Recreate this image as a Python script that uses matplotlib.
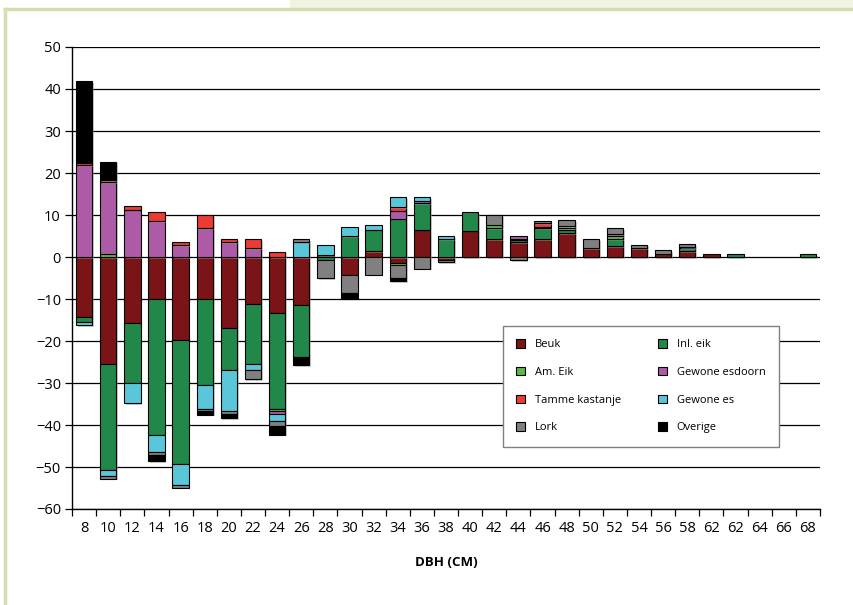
#!/usr/bin/env python3
"""Stacked bar chart of change in stem numbers per DBH class and species."""

import numpy as np
import matplotlib
matplotlib.use('Agg')
import matplotlib.pyplot as plt
import matplotlib.patheffects as pe
from matplotlib.patches import Rectangle, Patch
from matplotlib.lines import Line2D

# DBH classes (the original axis labels "62" twice)
dbh_labels = ['8', '10', '12', '14', '16', '18', '20', '22', '24', '26', '28',
              '30', '32', '34', '36', '38', '40', '42', '44', '46', '48', '50',
              '52', '54', '56', '58', '62', '62', '64', '66', '68']

beuk = [-14.2, -25.5, -15.6, -9.9, -19.8, -9.9, -17.0, -11.3, -13.4, -11.5, 0.4,
        -4.2, 1.4, -1.35, 6.5, -0.7, 6.3, 4.2, 3.5, 4.2, 5.7, 2.1,
        2.6, 2.1, 0.8, 1.4, 0.6, 0, 0, 0, 0]
inl_eik = [-1.2, -25.2, -14.3, -32.4, -29.4, -20.5, -9.9, -14.2, -22.7, -12.4, -0.7,
           4.9, 5.1, 9.1, 6.3, 4.3, 4.4, 2.7, 0.6, 2.7, 0.8, 0,
           1.6, 0, 0, 0.7, 0, 0.6, 0, 0, 0.6]
am_eik = [0, 0.8, 0, 0, 0, 0, 0, 0, -0.5, 0, 0,
          0, 0, -0.65, 0, 0, 0, 0.8, 0.3, 0.3, 0.3, 0,
          0.7, 0, 0, 0.3, 0, 0, 0, 0, 0]
esdoorn = [21.9, 17.0, 11.3, 8.5, 2.75, 6.9, 3.55, 2.1, -0.7, 0, 0,
           0, 0, 1.9, 0.6, 0, 0, 0, 0.7, 0, 0, 0,
           0, 0, 0, 0, 0, 0, 0, 0, 0]
kastanje = [0.6, 0.5, 0.9, 2.2, 0.8, 3.1, 0.7, 2.1, 1.3, 0, 0,
            0, 0, 0.8, 0, 0, 0, 0, 0, 0.8, 0, 0,
            0.6, 0, 0, 0, 0, 0, 0, 0, 0]
gewone_es = [-0.9, -1.4, -4.9, -4.1, -5.0, -5.7, -9.8, -1.4, -1.7, 3.55, 2.5,
             2.2, 1.2, 2.4, 0.8, 0.7, 0, 0, 0, 0, 0.5, 0,
             0, 0, 0, 0, 0, 0, 0, 0, 0]
lork = [0, -0.7, 0, -0.7, -0.7, -0.6, -0.7, -2.2, -1.3, 0.75, -4.3,
        -4.3, -4.2, -2.9, -2.8, -0.6, 0, 2.3, -0.7, 0.6, 1.4, 2.2,
        1.4, 0.8, 0.8, 0.6, 0, 0, 0, 0, 0]
overige = [19.3, 4.4, 0, -1.5, 0, -0.8, -0.9, 0, -2.0, -1.8, 0,
           -1.4, 0, -0.8, 0, 0, 0, 0, 0, 0, 0, 0,
           0, 0, 0, 0, 0, 0, 0, 0, 0]

species = ['Beuk', 'Inl. eik', 'Am. Eik', 'Gewone esdoorn',
           'Tamme kastanje', 'Gewone es', 'Lork', 'Overige']
series = [beuk, inl_eik, am_eik, esdoorn, kastanje, gewone_es, lork, overige]
colors = ['#7b1416', '#21884a', '#5bb947', '#ad5ba7',
          '#ee3a35', '#5ac6da', '#808080', '#000000']

plt.rcParams['font.family'] = ['Open Sans', 'DejaVu Sans']

fig = plt.figure(figsize=(8.54, 6.05), dpi=100)

# page decoration: light olive frame and beige strip at top right
fig.patches.append(Rectangle((290 / 854, 1 - 8 / 605), 1, 8 / 605,
                             transform=fig.transFigure, color='#f1f3e5', zorder=0))
fig.add_artist(Line2D([5 / 854, 5 / 854], [0, 1 - 9 / 605], transform=fig.transFigure,
                      color='#d6ddb0', lw=2.5))
fig.add_artist(Line2D([5 / 854, 1], [1 - 9 / 605, 1 - 9 / 605], transform=fig.transFigure,
                      color='#d6ddb0', lw=2.5))

ax = fig.add_axes([72 / 854, 1 - 509 / 605, 748 / 854, 462 / 605])

shadow = [pe.SimplePatchShadow(offset=(1.2, -1.2), shadow_rgbFace='#999999', alpha=0.5),
          pe.Normal()]

x = np.arange(len(dbh_labels))
pos_base = np.zeros(len(x))
neg_base = np.zeros(len(x))
for name, vals, col in zip(species, series, colors):
    v = np.array(vals, dtype=float)
    bottom = np.where(v >= 0, pos_base, neg_base)
    mask = v != 0
    bars = ax.bar(x[mask], v[mask], bottom=bottom[mask], width=0.68, color=col,
                  edgecolor='black', linewidth=0.8, zorder=3)
    for b in bars:
        b.set_path_effects(shadow)
    pos_base += np.where(v > 0, v, 0)
    neg_base += np.where(v < 0, v, 0)

ax.set_xlim(-0.5, len(x) - 0.5)
ax.set_ylim(-60, 50)
ax.set_yticks(np.arange(-60, 51, 10))
ax.yaxis.grid(True, color='black', linewidth=0.9, zorder=0)
ax.set_axisbelow(True)

ax.set_xticks(x)
ax.set_xticklabels(dbh_labels)
ax.set_xticks(np.arange(-0.5, len(x), 1), minor=True)
ax.tick_params(axis='x', which='major', length=0, pad=9, labelsize=10.5)
ax.tick_params(axis='x', which='minor', length=5, width=0.9, direction='out')
ax.tick_params(axis='y', length=5, width=0.9, direction='out', pad=3, labelsize=10.5)

for side in ['top', 'right']:
    ax.spines[side].set_visible(False)
ax.spines['left'].set_linewidth(1.0)
ax.spines['bottom'].set_linewidth(1.0)

ax.set_xlabel('DBH (CM)', fontsize=9.5, fontweight='bold', labelpad=14)

# legend: Excel-style row order, matplotlib fills column-wise
order = [0, 2, 4, 6, 1, 3, 5, 7]
handles = [Patch(facecolor=colors[i], edgecolor='black', linewidth=0.8) for i in order]
labels = [species[i] for i in order]
leg = ax.legend(handles, labels, ncol=2, loc='upper left',
                bbox_to_anchor=(0.576, 0.396), borderaxespad=0,
                fontsize=8, labelspacing=1.5, handlelength=0.75, handleheight=0.75,
                handletextpad=0.9, columnspacing=3.4, borderpad=1.2,
                fancybox=False, framealpha=1, edgecolor='#808080')
leg.get_frame().set_linewidth(1.0)
leg.set_zorder(5)

plt.savefig('out.png', dpi=100)
plt.close()
